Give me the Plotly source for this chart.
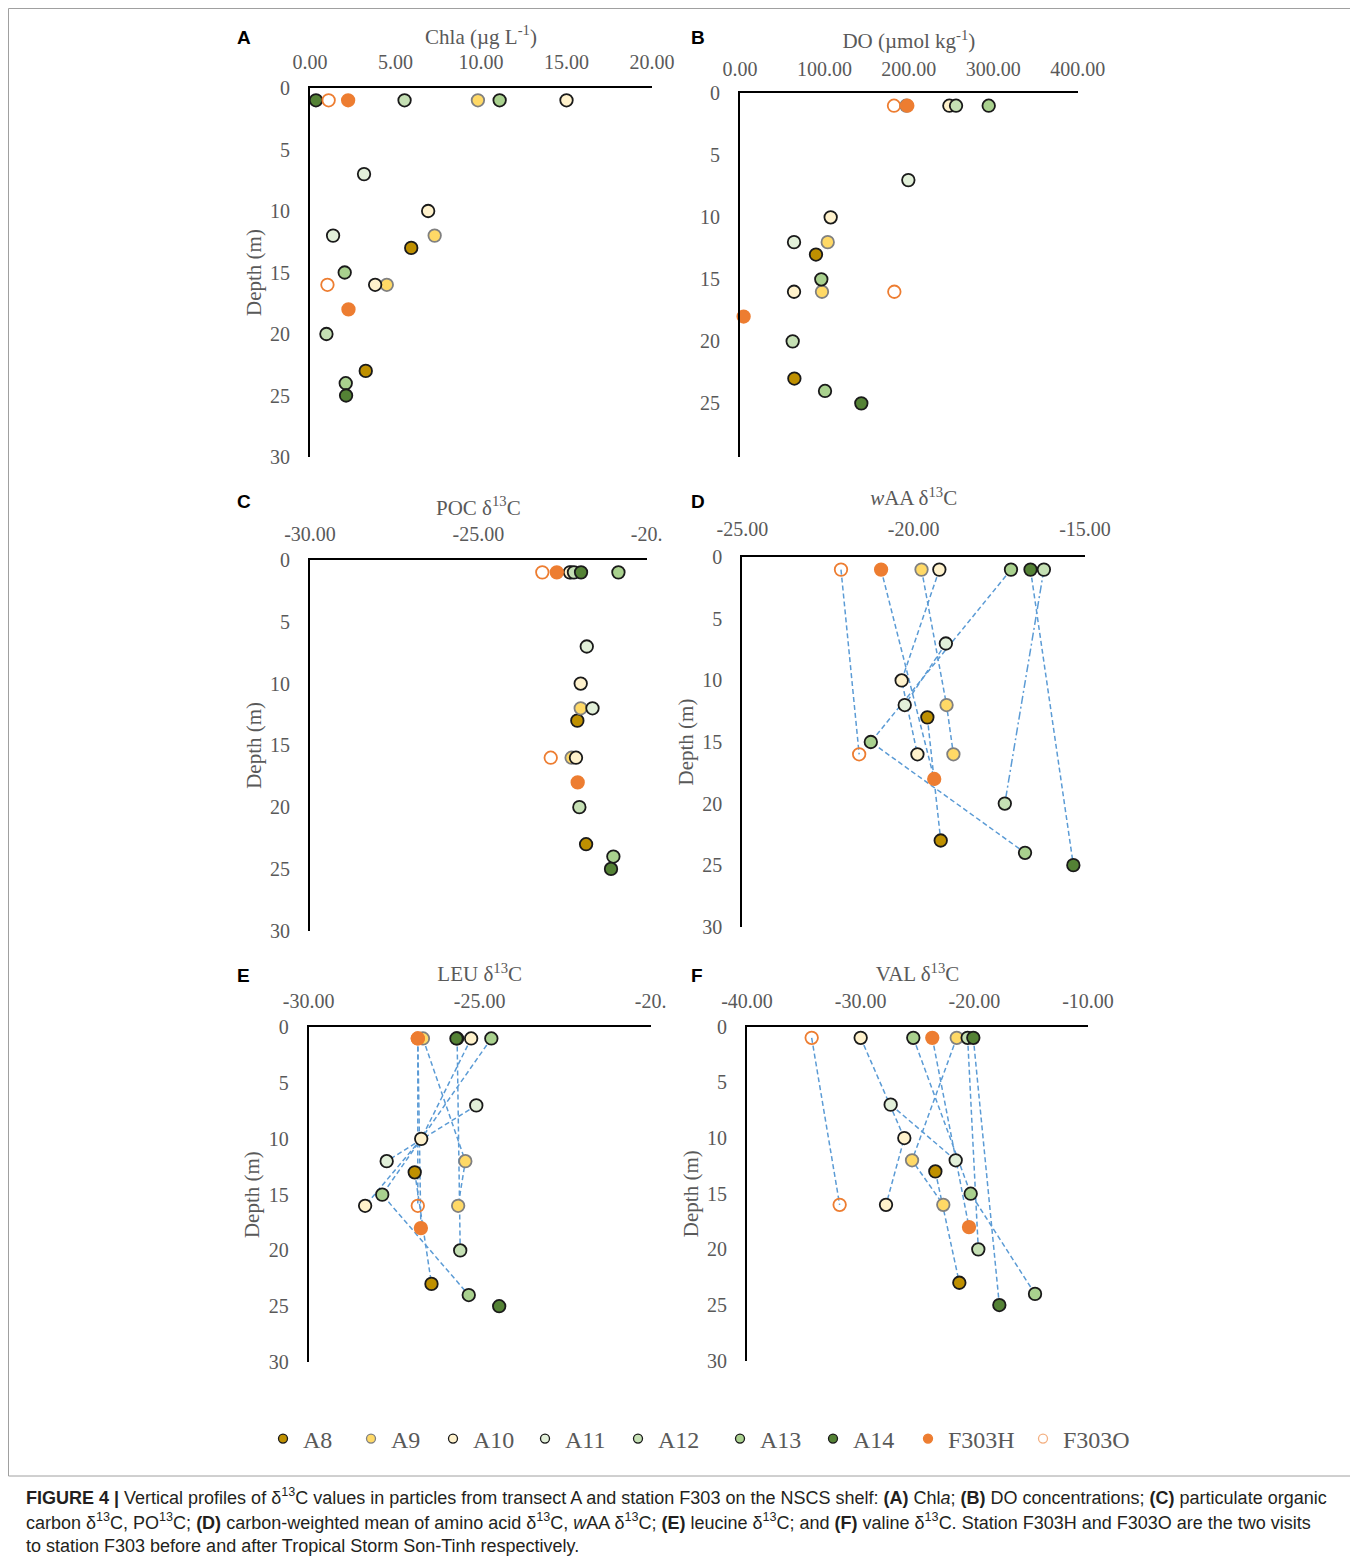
import plotly.graph_objects as go

# page body adds an 8px margin; the figure is sized and placed to compensate
OFF = 8
W, H = 1358 - OFF, 1560 - OFF

STATIONS = ["A8", "A9", "A10", "A11", "A12", "A13", "A14", "F303H", "F303O"]

# sampling depths (m) per station
DEPTH = {
    "A8": [13, 23],
    "A9": [1, 12, 16],
    "A10": [1, 10, 16],
    "A11": [7, 12],
    "A12": [1, 20],
    "A13": [1, 15, 24],
    "A14": [1, 25],
    "F303H": [1, 18],
    "F303O": [1, 16],
}

# (A) Chla (ug/L)
CHLA = {
    "A8": [5.92, 3.26],
    "A9": [9.82, 7.29, 4.49],
    "A10": [15.0, 6.91, 3.81],
    "A11": [3.16, 1.35],
    "A12": [5.53, 0.96],
    "A13": [11.09, 2.03, 2.09],
    "A14": [0.35, 2.11],
    "F303H": [2.23, 2.25],
    "F303O": [1.09, 1.02],
}

# (B) DO (umol/kg)
DO = {
    "A8": [90.0, 64.4],
    "A9": [197.0, 103.9, 97.1],
    "A10": [248.0, 107.4, 64.0],
    "A11": [199.4, 64.0],
    "A12": [255.9, 62.4],
    "A13": [294.6, 96.3, 100.7],
    "A14": [None, 143.7],
    "F303H": [198.2, 4.3],
    "F303O": [182.4, 182.8],
}

# (C) POC d13C
POC = {
    "A8": [-22.06, -21.80],
    "A9": [-22.25, -21.96, -22.23],
    "A10": [-22.28, -21.96, -22.10],
    "A11": [-21.78, -21.61],
    "A12": [-22.16, -22.00],
    "A13": [-20.84, None, -20.99],
    "A14": [-21.95, -21.06],
    "F303H": [-22.67, -22.05],
    "F303O": [-23.10, -22.85],
}

# (D) wAA d13C
WAA = {
    "A8": [-19.60, -19.21],
    "A9": [-19.77, -19.04, -18.84],
    "A10": [-19.25, -20.35, -19.89],
    "A11": [-19.06, -20.26],
    "A12": [-16.20, -17.34],
    "A13": [-17.16, -21.25, -16.75],
    "A14": [-16.59, -15.34],
    "F303H": [-20.95, -19.40],
    "F303O": [-22.12, -21.59],
}

# (E) LEU d13C
LEU = {
    "A8": [-26.90, -26.41],
    "A9": [-26.66, -25.42, -25.63],
    "A10": [-25.25, -26.71, -28.35],
    "A11": [-25.10, -27.72],
    "A12": [-25.66, -25.57],
    "A13": [-24.66, -27.85, -25.32],
    "A14": [-25.68, -24.43],
    "F303H": [-26.81, -26.72],
    "F303O": [-26.81, -26.81],
}

# (F) VAL d13C
VAL = {
    "A8": [-23.43, -21.32],
    "A9": [-21.55, -25.48, -22.73],
    "A10": [-30.00, -26.16, -27.77],
    "A11": [-27.36, -21.64],
    "A12": [-20.59, -19.65],
    "A13": [-25.37, -20.32, -14.66],
    "A14": [-20.09, -17.80],
    "F303H": [-23.70, -20.47],
    "F303O": [-34.31, -31.85],
}

DEPTH_TICKS = [0, 5, 10, 15, 20, 25, 30]
TICKS_A = [0, 5, 10, 15, 20]
TICKTEXT_A = ["0.00", "5.00", "10.00", "15.00", "20.00"]
TICKS_B = [0, 100, 200, 300, 400]
TICKTEXT_B = ["0.00", "100.00", "200.00", "300.00", "400.00"]
TICKS_C = [-30, -25, -20]
TICKTEXT_C = ["-30.00", "-25.00", "-20."]
TICKS_D = [-25, -20, -15]
TICKTEXT_D = ["-25.00", "-20.00", "-15.00"]
TICKS_E = [-30, -25, -20]
TICKTEXT_E = ["-30.00", "-25.00", "-20."]
TICKS_F = [-40, -30, -20, -10]
TICKTEXT_F = ["-40.00", "-30.00", "-20.00", "-10.00"]

FILL = {
    "A8": "#bf9000", "A9": "#ffd966", "A10": "#fff2cc", "A11": "#e2f0d9",
    "A12": "#c5e0b4", "A13": "#a9d18e", "A14": "#548235",
    "F303H": "#ed7d31", "F303O": "rgba(255,255,255,0)",
}
EDGE = {
    "A8": "#1a1a1a", "A9": "#808080", "A10": "#1a1a1a", "A11": "#1a1a1a",
    "A12": "#1a1a1a", "A13": "#1a1a1a", "A14": "#1a1a1a",
    "F303H": "#ed7d31", "F303O": "#ed7d31",
}
LEG_EDGE = dict(EDGE, F303O="#f4b183")

SERIF = "Liberation Serif, Times New Roman, serif"
SANS = "Liberation Sans, Arial, sans-serif"
GRAY = "#595959"
LINE_BLUE = "#5b9bd5"
DASH = "5px,3px"
DASHDOT = "8px,3px,2px,3px"


def px(xp):
    return (xp - OFF) / W


def py(yp):
    return 1 - (yp - OFF) / H


# panel geometry in page pixels: x0, x1, ytop, ybottom
PANELS = [
    dict(key="A", data=CHLA, rng=[0, 20], tv=TICKS_A, tt=TICKTEXT_A,
         title="Chla (µg L<sup>-1</sup>)", ytitle="Depth (m)", ymax=30,
         box=(310, 652, 88, 457), lines=None, tstand=0.5, tls=9),
    dict(key="B", data=DO, rng=[0, 400], tv=TICKS_B, tt=TICKTEXT_B,
         title="DO (µmol kg<sup>-1</sup>)", ytitle="", ymax=29.3,
         box=(740, 1077.7, 93.3, 456.7), lines=None, tstand=3.5, tls=7),
    dict(key="C", data=POC, rng=[-30, -20], tv=TICKS_C, tt=TICKTEXT_C,
         title="POC δ<sup>13</sup>C", ytitle="Depth (m)", ymax=30,
         box=(310, 646.7, 560, 930.7), lines=None, tstand=1.5, tls=9),
    dict(key="D", data=WAA, rng=[-25, -15], tv=TICKS_D, tt=TICKTEXT_D,
         title="<i>w</i>AA δ<sup>13</sup>C", ytitle="Depth (m)", ymax=30,
         box=(742.3, 1085, 557.3, 926.7),
         lines={s: (DASHDOT if s == "A12" else DASH) for s in STATIONS},
         tstand=6.5, tls=11),
    dict(key="E", data=LEU, rng=[-30, -20], tv=TICKS_E, tt=TICKTEXT_E,
         title="LEU δ<sup>13</sup>C", ytitle="Depth (m)", ymax=30,
         box=(308.7, 650.7, 1027.3, 1362),
         lines={s: DASH for s in STATIONS if s != "A14"}, tstand=2.5, tls=9),
    dict(key="F", data=VAL, rng=[-40, -10], tv=TICKS_F, tt=TICKTEXT_F,
         title="VAL δ<sup>13</sup>C", ytitle="Depth (m)", ymax=30,
         box=(747, 1088, 1026.7, 1360.7),
         lines={s: DASH for s in STATIONS}, tstand=2.0, tls=9),
]

LABEL_POS = {"A": (244, 37), "B": (698, 37), "C": (244, 501),
             "D": (698, 501), "E": (243, 975), "F": (697, 975)}

LEGEND_X = [285, 373, 455, 547, 640, 742, 835, 930, 1045]
LEGEND_Y = 1439

fig = go.Figure()
layout = dict(
    width=W, height=H, margin=dict(l=0, r=0, t=0, b=0, autoexpand=False),
    paper_bgcolor="white", plot_bgcolor="white", showlegend=True,
)
annotations = []

for i, p in enumerate(PANELS):
    n = i + 1
    xa, ya = ("x" if n == 1 else f"x{n}"), ("y" if n == 1 else f"y{n}")
    x0, x1, yt, yb = p["box"]
    # lines first (behind all markers)
    if p["lines"]:
        for s in STATIONS:
            if s in p["lines"]:
                fig.add_trace(go.Scatter(
                    x=p["data"][s], y=DEPTH[s], xaxis=xa, yaxis=ya,
                    mode="lines", connectgaps=True,
                    line=dict(color=LINE_BLUE, width=1.5, dash=p["lines"][s]),
                    showlegend=False, hoverinfo="skip", cliponaxis=False))
    for s in STATIONS:
        fig.add_trace(go.Scatter(
            x=p["data"][s], y=DEPTH[s], xaxis=xa, yaxis=ya, mode="markers",
            name=s, showlegend=False, cliponaxis=False,
            marker=dict(size=12.5, symbol="circle", color=FILL[s],
                        line=dict(color=EDGE[s], width=1.8))))
    layout["xaxis" if n == 1 else f"xaxis{n}"] = dict(
        domain=[px(x0), px(x1)], anchor=ya, side="top", range=p["rng"],
        tickvals=p["tv"], ticktext=p["tt"], showline=True, linecolor="black",
        linewidth=2, ticks="", showgrid=False, zeroline=False,
        tickfont=dict(family=SERIF, size=20, color=GRAY),
        ticklabelstandoff=p["tls"],
        title=dict(text=p["title"], font=dict(family=SERIF, size=21, color=GRAY),
                   standoff=p["tstand"]),
    )
    layout["yaxis" if n == 1 else f"yaxis{n}"] = dict(
        domain=[py(yb), py(yt)], anchor=xa, range=[p["ymax"], 0],
        tickvals=DEPTH_TICKS, showline=True, linecolor="black", linewidth=2,
        ticks="", showgrid=False, zeroline=False,
        tickfont=dict(family=SERIF, size=20, color=GRAY), ticklabelstandoff=14,
        title=dict(text=p["ytitle"], font=dict(family=SERIF, size=21, color=GRAY),
                   standoff=3),
    )
    lx, ly = LABEL_POS[p["key"]]
    annotations.append(dict(
        text=f"<b>{p['key']}</b>", x=px(lx), y=py(ly), xref="paper",
        yref="paper", showarrow=False, xanchor="center", yanchor="middle",
        font=dict(family=SANS, size=19, color="black")))

# legend: one legend box per station so that each entry sits where it should
for k, s in enumerate(STATIONS):
    lname = "legend" if k == 0 else f"legend{k + 1}"
    fig.add_trace(go.Scatter(
        x=[None], y=[None], mode="markers", name=s, legend=lname,
        showlegend=True,
        marker=dict(size=9, color=FILL[s], line=dict(color=LEG_EDGE[s], width=1.3))))
    layout[lname] = dict(
        x=px(LEGEND_X[k] - 22), y=py(LEGEND_Y), xanchor="left",
        yanchor="middle", orientation="h", bgcolor="rgba(0,0,0,0)",
        borderwidth=0, itemwidth=30,
        font=dict(family=SERIF, size=24, color=GRAY))

CAPTION = [
    "<b>FIGURE 4 |</b> Vertical profiles of δ<sup>13</sup>C values in particles from transect A and "
    "station F303 on the NSCS shelf: <b>(A)</b> Chl<i>a</i>; <b>(B)</b> DO concentrations; "
    "<b>(C)</b> particulate organic",
    "carbon δ<sup>13</sup>C, PO<sup>13</sup>C; <b>(D)</b> carbon-weighted mean of amino acid "
    "δ<sup>13</sup>C, <i>w</i>AA δ<sup>13</sup>C; <b>(E)</b> leucine δ<sup>13</sup>C; and "
    "<b>(F)</b> valine δ<sup>13</sup>C. Station F303H and F303O are the two visits",
    "to station F303 before and after Tropical Storm Son-Tinh respectively.",
]
CAPTION_Y = [1496, 1521, 1546]
for t, cy in zip(CAPTION, CAPTION_Y):
    annotations.append(dict(
        text=t, x=px(24), y=py(cy), xref="paper", yref="paper",
        showarrow=False, xanchor="left", yanchor="middle", align="left",
        font=dict(family=SANS, size=18, color="#231f20")))

layout["annotations"] = annotations
layout["shapes"] = [dict(type="rect", xref="paper", yref="paper",
                         x0=px(8.5), x1=px(1356), y0=py(1476), y1=py(8.5),
                         line=dict(color="#a0a0a0", width=1), layer="below")]
fig.update_layout(**layout)
fig.write_html("out.html")
